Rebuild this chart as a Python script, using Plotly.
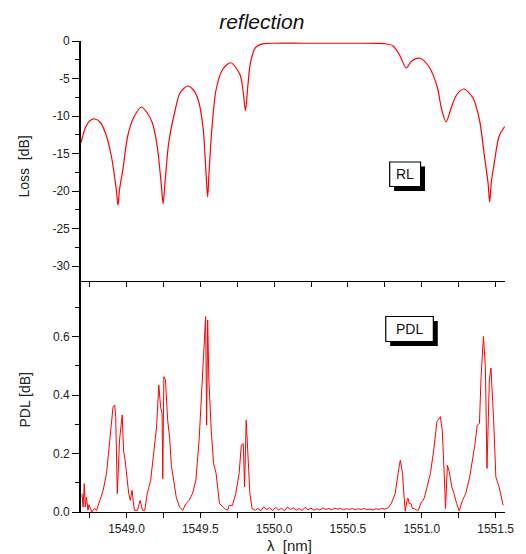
import plotly.graph_objects as go

# Reflection loss spectrum (dB) versus wavelength (nm)
rl_wavelength = [
    1548.692, 1548.721, 1548.754, 1548.787, 1548.825, 1548.865, 1548.898,
    1548.931, 1548.942, 1548.953, 1548.975, 1549.008, 1549.046, 1549.102,
    1549.141, 1549.175, 1549.208, 1549.237, 1549.248, 1549.259, 1549.286,
    1549.330, 1549.363, 1549.414, 1549.452, 1549.485, 1549.518, 1549.540,
    1549.550, 1549.558, 1549.578, 1549.607, 1549.651, 1549.707, 1549.769,
    1549.789, 1549.806, 1549.822, 1549.840, 1549.873, 1549.929, 1550.000,
    1550.200, 1550.400, 1550.600, 1550.700, 1550.749, 1550.804, 1550.848,
    1550.895, 1550.930, 1550.986, 1551.048, 1551.103, 1551.136, 1551.165,
    1551.203, 1551.236, 1551.285, 1551.347, 1551.391, 1551.425, 1551.449,
    1551.460, 1551.471, 1551.491, 1551.524, 1551.562,
]
rl_loss = [
    -13.6, -11.6, -10.6, -10.4, -10.9, -12.7, -15.4,
    -19.8, -21.9, -19.8, -17.2, -12.7, -10.3, -8.8,
    -9.6, -10.9, -14.0, -19.4, -21.7, -19.4, -13.6,
    -9.2, -6.9, -6.0, -6.5, -7.8, -11.4, -18.0,
    -20.8, -18.0, -11.8, -6.5, -3.8, -2.9, -4.5,
    -6.5, -9.3, -6.0, -2.9, -0.9, -0.36, -0.3,
    -0.3, -0.3, -0.3, -0.32, -0.36, -0.63, -1.8,
    -3.6, -2.7, -2.3, -3.4, -6.0, -9.2, -10.8,
    -8.7, -7.2, -6.4, -7.6, -10.5, -15.4, -18.9,
    -21.5, -18.9, -16.3, -12.7, -11.4,
]

# Polarisation dependent loss (dB) versus wavelength (nm)
pdl_wavelength = [
    1548.699, 1548.706, 1548.714, 1548.721, 1548.729, 1548.739, 1548.746,
    1548.754, 1548.765, 1548.782, 1548.798, 1548.820, 1548.842, 1548.865,
    1548.876, 1548.893, 1548.909, 1548.920, 1548.927, 1548.938, 1548.953,
    1548.971, 1548.980, 1548.991, 1549.004, 1549.015, 1549.026, 1549.038,
    1549.053, 1549.075, 1549.093, 1549.108, 1549.124, 1549.141, 1549.164,
    1549.186, 1549.204, 1549.219, 1549.231, 1549.241, 1549.246, 1549.253,
    1549.264, 1549.279, 1549.292, 1549.304, 1549.319, 1549.337, 1549.359,
    1549.381, 1549.403, 1549.425, 1549.447, 1549.470, 1549.492, 1549.514,
    1549.536, 1549.543, 1549.550, 1549.558, 1549.574, 1549.590, 1549.607,
    1549.630, 1549.663, 1549.685, 1549.696, 1549.718, 1549.740, 1549.763,
    1549.778, 1549.791, 1549.800, 1549.811, 1549.822, 1549.836, 1549.851,
    1549.873, 1549.890, 1549.910, 1549.930, 1549.950, 1549.970, 1549.990,
    1550.010, 1550.030, 1550.050, 1550.070, 1550.090, 1550.110, 1550.130,
    1550.150, 1550.170, 1550.190, 1550.210, 1550.230, 1550.250, 1550.270,
    1550.290, 1550.310, 1550.330, 1550.350, 1550.370, 1550.390, 1550.410,
    1550.430, 1550.450, 1550.470, 1550.490, 1550.510, 1550.530, 1550.550,
    1550.570, 1550.590, 1550.610, 1550.630, 1550.650, 1550.670, 1550.690,
    1550.710, 1550.730, 1550.750, 1550.770, 1550.793, 1550.820, 1550.837,
    1550.848, 1550.855, 1550.864, 1550.870, 1550.877, 1550.888, 1550.903,
    1550.908, 1550.915, 1550.926, 1550.937, 1550.948, 1550.970, 1550.977,
    1550.997, 1551.010, 1551.019, 1551.036, 1551.059, 1551.081, 1551.103,
    1551.126, 1551.139, 1551.152, 1551.161, 1551.174, 1551.187, 1551.203,
    1551.219, 1551.236, 1551.254, 1551.276, 1551.298, 1551.325, 1551.342,
    1551.358, 1551.376, 1551.391, 1551.402, 1551.418, 1551.431, 1551.442,
    1551.458, 1551.469, 1551.487, 1551.502, 1551.524, 1551.540, 1551.551,
]
pdl_value = [
    0.063, 0.017, 0.097, 0.017, 0.051, 0.006, 0.025,
    0.012, 0.000, 0.012, 0.006, 0.040, 0.074, 0.132,
    0.183, 0.269, 0.360, 0.366, 0.326, 0.063, 0.246,
    0.332, 0.212, 0.177, 0.109, 0.063, 0.040, 0.074,
    0.006, 0.006, 0.040, 0.006, 0.006, 0.063, 0.109,
    0.212, 0.291, 0.434, 0.360, 0.337, 0.114, 0.463,
    0.452, 0.314, 0.257, 0.160, 0.109, 0.051, 0.017,
    0.006, 0.029, 0.040, 0.063, 0.109, 0.246, 0.452,
    0.668, 0.297, 0.657, 0.452, 0.280, 0.166, 0.132,
    0.029, 0.012, 0.006, 0.023, 0.023, 0.063, 0.132,
    0.229, 0.234, 0.086, 0.314, 0.200, 0.063, 0.012,
    0.006, 0.012, 0.004, 0.018, 0.008, 0.015, 0.005,
    0.016, 0.007, 0.013, 0.004, 0.017, 0.009, 0.014,
    0.006, 0.012, 0.005, 0.016, 0.008, 0.013, 0.006,
    0.011, 0.007, 0.014, 0.009, 0.012, 0.008, 0.013,
    0.010, 0.012, 0.008, 0.011, 0.009, 0.012, 0.008,
    0.011, 0.009, 0.012, 0.008, 0.010, 0.007, 0.011,
    0.009, 0.012, 0.010, 0.014, 0.028, 0.063, 0.132,
    0.160, 0.177, 0.154, 0.132, 0.074, 0.003, 0.046,
    0.046, 0.029, 0.029, 0.012, 0.012, 0.006, 0.006,
    0.034, 0.040, 0.051, 0.086, 0.132, 0.212, 0.309,
    0.326, 0.280, 0.132, 0.012, 0.160, 0.137, 0.086,
    0.063, 0.029, 0.004, 0.040, 0.063, 0.120, 0.171,
    0.223, 0.297, 0.303, 0.463, 0.600, 0.497, 0.149,
    0.452, 0.492, 0.314, 0.120, 0.086, 0.046, 0.023,
]

# Axis ticks and labels
wl_ticks = [1549.0, 1549.5, 1550.0, 1550.5, 1551.0, 1551.5]
wl_labels = ["1549.0", "1549.5", "1550.0", "1550.5", "1551.0", "1551.5"]
rl_ticks = [0, -5, -10, -15, -20, -25, -30]
rl_labels = ["0", "-5", "-10", "-15", "-20", "-25", "-30"]
pdl_ticks = [0.0, 0.2, 0.4, 0.6]
pdl_labels = ["0.0", "0.2", "0.4", "0.6"]

FONT = "Liberation Sans, Arial, sans-serif"
TEXT = "#222222"
RED = "#ff0000"

W, H = 526, 554
ML, MR, MT, MB = 81, 13, 41, 42
PW, PH = W - ML - MR, H - MT - MB
SPLIT = (H - MB - 281) / PH


def px(x):
    return (x - ML) / PW


def py(y):
    return (H - MB - y) / PH


fig = go.Figure()
fig.add_trace(go.Scatter(
    x=rl_wavelength, y=rl_loss, xaxis="x2", yaxis="y2", mode="lines",
    line=dict(color=RED, width=1.2, shape="spline", smoothing=0.8),
    showlegend=False, hoverinfo="x+y",
))
fig.add_trace(go.Scatter(
    x=pdl_wavelength, y=pdl_value, xaxis="x", yaxis="y", mode="lines",
    line=dict(color=RED, width=1),
    showlegend=False, hoverinfo="x+y",
))

xrange = [1548.692, 1551.564]
axis_common = dict(
    showline=True, linecolor="black", showgrid=False, zeroline=False,
    ticks="outside", tickcolor="black", tickwidth=1.2,
    tickfont=dict(family=FONT, size=12, color=TEXT),
)

fig.update_layout(
    width=W, height=H,
    margin=dict(l=ML, r=MR, t=MT, b=MB),
    paper_bgcolor="white", plot_bgcolor="white",
    font=dict(family=FONT, color=TEXT),
    title=dict(
        text="<i>reflection</i>", x=px(296), xanchor="center",
        y=1 - 22 / H, yanchor="middle", yref="container",
        font=dict(family=FONT, size=21, color="#111111"),
    ),
    xaxis=dict(
        **axis_common, domain=[0, 1], anchor="y", range=xrange,
        tickvals=wl_ticks, ticktext=wl_labels, ticklen=5, linewidth=1.2,
        minor=dict(dtick=0.25, tick0=1549.0, ticks="outside", ticklen=5,
                   tickwidth=1.2, tickcolor="black"),
    ),
    xaxis2=dict(
        **axis_common, domain=[0, 1], anchor="y2", range=xrange,
        matches="x", dtick=0.25, tick0=1549.0, ticklen=5, linewidth=1.2,
        showticklabels=False,
    ),
    yaxis=dict(
        **axis_common, domain=[0, SPLIT], anchor="x", range=[0, 0.79],
        tickvals=pdl_ticks, ticktext=pdl_labels, ticklen=7, linewidth=1.6,
        minor=dict(dtick=0.1, tick0=0, ticks="outside", ticklen=4,
                   tickwidth=1.2, tickcolor="black"),
    ),
    yaxis2=dict(
        **axis_common, domain=[SPLIT, 1], anchor="x2", range=[-32, 0],
        tickvals=rl_ticks, ticktext=rl_labels, ticklen=7, linewidth=1.6,
        minor=dict(dtick=2.5, tick0=0, ticks="outside", ticklen=4,
                   tickwidth=1.2, tickcolor="black"),
    ),
)

# Axis titles
fig.add_annotation(text="Loss  [dB]", xref="paper", yref="paper",
                   x=px(22.5), y=py(167), textangle=-90, showarrow=False,
                   xanchor="center", yanchor="middle",
                   font=dict(family=FONT, size=14, color=TEXT))
fig.add_annotation(text="PDL [dB]", xref="paper", yref="paper",
                   x=px(23.5), y=py(400), textangle=-90, showarrow=False,
                   xanchor="center", yanchor="middle",
                   font=dict(family=FONT, size=14, color=TEXT))
fig.add_annotation(text="λ  [nm]", xref="paper", yref="paper",
                   x=px(293), y=py(545), showarrow=False,
                   xanchor="center", yanchor="middle",
                   font=dict(family=FONT, size=15, color=TEXT))

# Labels in boxes with drop shadows
for label, (x0, y0, x1, y1) in [("RL", (395.5, 162, 427, 186.5)),
                                ("PDL", (391.5, 316.5, 440, 341.5))]:
    fig.add_shape(type="rect", xref="paper", yref="paper",
                  x0=px(x0 + 4.5), x1=px(x1 + 4.5), y0=py(y0 + 4.5), y1=py(y1 + 4.5),
                  fillcolor="black", line=dict(width=0), layer="above")
    fig.add_shape(type="rect", xref="paper", yref="paper",
                  x0=px(x0), x1=px(x1), y0=py(y0), y1=py(y1),
                  fillcolor="white", line=dict(color="black", width=1.2),
                  layer="above")
    fig.add_annotation(text=label, xref="paper", yref="paper",
                       x=px((x0 + x1) / 2), y=py((y0 + y1) / 2),
                       showarrow=False, xanchor="center", yanchor="middle",
                       font=dict(family=FONT, size=14, color="#111111"))

fig.write_html("out.html")
